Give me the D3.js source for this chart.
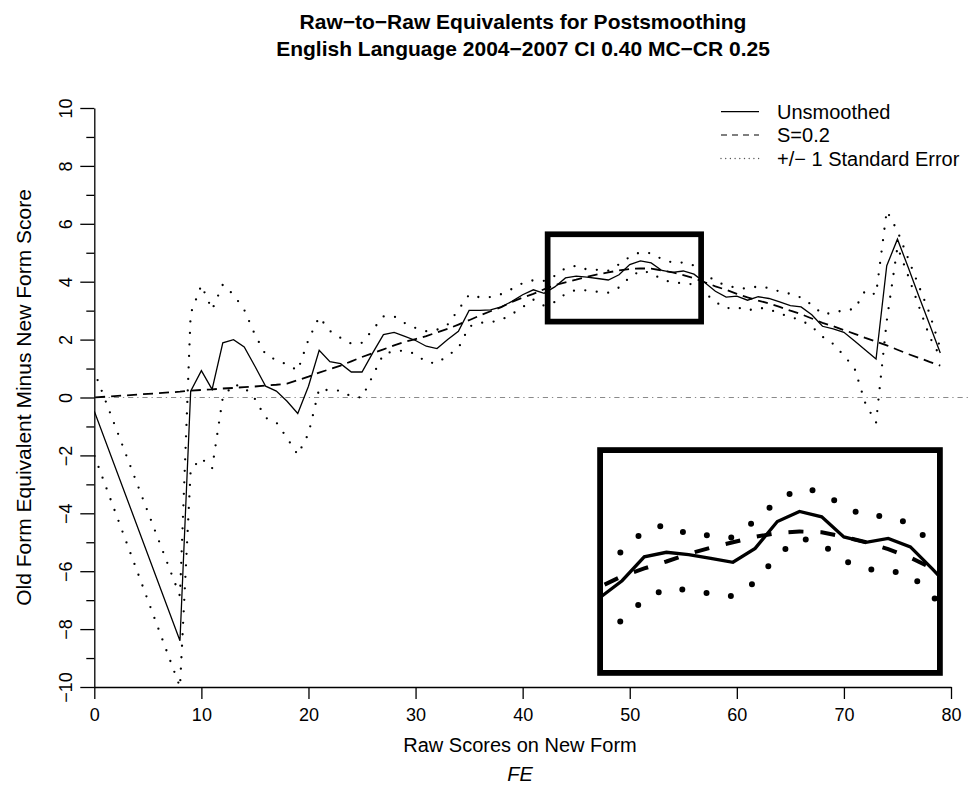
<!DOCTYPE html>
<html><head><meta charset="utf-8">
<script src="https://cdn.jsdelivr.net/npm/d3@7"></script>
<style>body{margin:0;background:#fff}svg{display:block}text{font-family:"Liberation Sans",Arial,Helvetica,sans-serif;fill:#000}</style>
</head><body>
<svg id="chart" width="971" height="785"></svg>
<script>
// ---------------- data ----------------
const scores = [0, 8, 9, 10, 11, 12, 13, 14, 15, 16, 17, 18, 19, 20, 21, 22, 23, 24, 25, 26, 27, 28, 29,
  30, 31, 32, 33, 34, 35, 36, 37, 38, 39, 40, 41, 42, 43, 44, 45, 46, 47, 48, 49, 50, 51, 52, 53, 54,
  55, 56, 57, 58, 59, 60, 61, 62, 63, 64, 65, 66, 67, 68, 69, 70, 71, 72, 73, 74, 75, 76, 77, 78, 79];
const unsmoothed = [-0.47, -8.4, 0.22, 0.93, 0.28, 1.89, 2.0, 1.75, 1.08, 0.39, 0.22, -0.13, -0.55, 0.39,
  1.63, 1.24, 1.17, 0.88, 0.88, 1.54, 2.17, 2.25, 2.11, 1.97, 1.77, 1.69, 2.0, 2.29, 3.01, 3.01, 3.03,
  3.13, 3.32, 3.55, 3.72, 3.6, 3.82, 4.13, 4.19, 4.16, 4.11, 4.06, 4.24, 4.59, 4.72, 4.65, 4.39, 4.32,
  4.37, 4.26, 3.97, 3.67, 3.47, 3.5, 3.36, 3.48, 3.42, 3.3, 3.17, 3.13, 2.86, 2.46, 2.37, 2.25, 1.95,
  1.64, 1.33, 4.55, 5.47, 4.5, 3.5, 2.52, 1.54];
const smoothed = [0.0, 0.2, 0.24, 0.26, 0.28, 0.31, 0.33, 0.36, 0.38, 0.41, 0.44, 0.48, 0.6, 0.72, 0.86,
  0.98, 1.1, 1.25, 1.4, 1.53, 1.66, 1.8, 1.92, 2.02, 2.12, 2.25, 2.37, 2.52, 2.67, 2.83, 2.98, 3.12, 3.3,
  3.45, 3.58, 3.74, 3.88, 3.98, 4.07, 4.17, 4.25, 4.32, 4.39, 4.44, 4.46, 4.45, 4.39, 4.32, 4.23, 4.12,
  3.98, 3.84, 3.72, 3.58, 3.46, 3.35, 3.25, 3.13, 3.0, 2.88, 2.73, 2.58, 2.46, 2.33, 2.2, 2.06, 1.93,
  1.8, 1.65, 1.5, 1.37, 1.23, 1.1];
const upperSE = [0.9, -6.86, 2.9, 3.88, 3.03, 3.9, 3.55, 3.03, 2.17, 1.48, 1.29, 1.14, 0.93, 2.0, 2.78,
  2.3, 2.06, 1.86, 1.89, 2.34, 2.8, 2.8, 2.57, 2.4, 2.29, 2.34, 2.52, 3.03, 3.55, 3.46, 3.47, 3.57, 3.75,
  3.95, 4.05, 4.03, 4.2, 4.47, 4.55, 4.42, 4.41, 4.38, 4.6, 4.86, 5.02, 4.98, 4.78, 4.66, 4.66, 4.56,
  4.3, 4.0, 3.88, 3.78, 3.76, 3.84, 3.78, 3.66, 3.58, 3.45, 3.2, 2.88, 2.92, 3.02, 3.05, 3.7, 3.55,
  6.45, 5.75, 4.8, 3.85, 2.9, 1.7];
const lowerSE = [-2.0, -10.0, -2.5, -2.1, -2.45, 0.0, 0.45, 0.35, -0.05, -0.7, -0.86, -1.4, -1.98, -1.25,
  0.3, 0.24, 0.24, 0.03, 0.0, 0.75, 1.5, 1.6, 1.62, 1.5, 1.22, 1.18, 1.45, 1.7, 2.45, 2.58, 2.6, 2.68,
  2.88, 3.12, 3.38, 3.17, 3.3, 3.58, 3.72, 3.7, 3.65, 3.62, 3.8, 4.15, 4.38, 4.3, 4.08, 3.97, 3.95, 3.9,
  3.62, 3.3, 3.08, 3.12, 3.0, 3.1, 3.05, 2.9, 2.78, 2.67, 2.45, 2.1, 1.85, 1.45, 1.0, -0.2, -0.87, 2.65,
  5.2, 4.2, 3.15, 2.1, 1.4];
const xTicks = [0, 10, 20, 30, 40, 50, 60, 70, 80];
const yTicks = [-10, -8, -6, -4, -2, 0, 2, 4, 6, 8, 10];
const yMinorTicks = [-9, -7, -5, -3, -1, 1, 3, 5, 7, 9];
const legendLabels = ["Unsmoothed", "S=0.2", "+/\u2212 1 Standard Error"];
const titleLines = ["Raw\u2212to\u2212Raw Equivalents for Postsmoothing",
  "English Language 2004\u22122007 CI 0.40 MC\u2212CR 0.25"];
const zoomWindowX = [42.6, 56.4];   // region magnified in the inset
const zoomWindowY = [2.72, 5.54];
const insetDomainX = [42.14, 57.2];
const insetDomainY = [2.66, 5.48];

// ---------------- layout ----------------
const svg = d3.select("#chart");
const defs = svg.append("defs");
const x = d3.scaleLinear().domain([0, 80]).range([94.3, 951]);
const y = d3.scaleLinear().domain([-10, 10]).range([687, 108]);

const rows = scores.map((s, i) => ({s, u: unsmoothed[i], m: smoothed[i], hi: upperSE[i], lo: lowerSE[i]}));

// dash phase so that a pattern element starts at the given arc position before vertex `at`
function phase(lineGen, at, back, period) {
  const tmp = svg.append("path").attr("d", lineGen(rows.filter(r => r.s <= at)));
  const L = tmp.node().getTotalLength();
  tmp.remove();
  const p = L - back;
  return ((period - (p % period)) % period);
}

defs.append("clipPath").attr("id", "plotclip")
  .append("rect").attr("x", x(0)).attr("y", y(10) - 2).attr("width", x(80) - x(0) + 4).attr("height", y(-10) - y(10) + 3);

// title
svg.append("g").selectAll("text").data(titleLines).join("text")
  .attr("x", 523).attr("y", (d, i) => 29 + i * 27)
  .attr("text-anchor", "middle").style("font-weight", "bold").style("font-size", "21px").text(d => d);

// reference line at 0
svg.append("line").attr("x1", x(0)).attr("x2", 971).attr("y1", y(0)).attr("y2", y(0))
  .attr("stroke", "#8a8a8a").attr("stroke-width", 1.2).attr("stroke-dasharray", "1.3,3.9,5.2,3.9");

// axes
const gx = svg.append("g").attr("transform", `translate(0,${y(-10)})`)
  .call(d3.axisBottom(x).tickValues(xTicks).tickSize(12).tickSizeOuter(0).tickPadding(9));
gx.selectAll("text").style("font-size", "18px").attr("dy", "0.71em");
const gy = svg.append("g").attr("transform", `translate(${x(0)},0)`)
  .call(d3.axisLeft(y).tickValues(yTicks).tickSize(14).tickSizeOuter(0));
gy.selectAll("text").attr("transform", "rotate(-90)").attr("x", 0).attr("y", -22).attr("dy", 0)
  .attr("text-anchor", "middle").style("font-size", "18px");
svg.append("g").attr("transform", `translate(${x(0)},0)`)
  .call(d3.axisLeft(y).tickValues(yMinorTicks).tickSize(8).tickSizeOuter(0).tickFormat(""))
  .select(".domain").remove();
svg.selectAll(".domain, .tick line").attr("stroke", "#000").attr("stroke-width", 1.3);

// axis titles
svg.append("text").attr("transform", `translate(31,${y(0)}) rotate(-90)`).attr("text-anchor", "middle")
  .style("font-size", "21px").text("Old Form Equivalent Minus New Form Score");
svg.append("text").attr("x", 520).attr("y", 752).attr("text-anchor", "middle")
  .style("font-size", "20px").text("Raw Scores on New Form");
svg.append("text").attr("x", 520).attr("y", 781).attr("text-anchor", "middle")
  .style("font-size", "20px").style("font-style", "italic").text("FE");

// series in the main plot
const mainLine = key => d3.line().x(d => x(d.s)).y(d => y(d[key]));
const plot = svg.append("g").attr("clip-path", "url(#plotclip)").attr("fill", "none");
["hi", "lo"].forEach(k => {
  plot.append("path").datum(rows).attr("d", mainLine(k)).attr("stroke", "#000").attr("stroke-width", 2.3)
    .attr("stroke-linecap", "round").attr("stroke-dasharray", "0,11.5")
    .attr("stroke-dashoffset", phase(mainLine(k), 43, 0.5, 11.5));
});
plot.append("path").datum(rows).attr("d", mainLine("m")).attr("stroke", "#000").attr("stroke-width", 1.8)
  .attr("stroke-dasharray", "10,6").attr("stroke-dashoffset", phase(mainLine("m"), 48, 5, 16));
plot.append("path").datum(rows).attr("d", mainLine("u")).attr("stroke", "#000").attr("stroke-width", 1.3);

// zoom window box in main plot
const bw = 5.7;
svg.append("rect").attr("x", x(zoomWindowX[0]) - bw / 2).attr("y", y(zoomWindowY[1]) - bw / 2)
  .attr("width", x(zoomWindowX[1]) - x(zoomWindowX[0]) + bw).attr("height", y(zoomWindowY[0]) - y(zoomWindowY[1]) + bw)
  .attr("fill", "none").attr("stroke", "#000").attr("stroke-width", bw);

// legend
const lg = svg.append("g");
const legY = [111.7, 135, 158.5];
const legStyles = [
  {w: 1.2, dash: null, cap: "butt"},
  {w: 1.2, dash: "6,5", cap: "butt"},
  {w: 1.4, dash: "0,4.7", cap: "round"}];
legendLabels.forEach((lab, i) => {
  lg.append("line").attr("x1", 721).attr("x2", 759).attr("y1", legY[i]).attr("y2", legY[i])
    .attr("stroke", i === 2 ? "#555" : "#000").attr("stroke-width", legStyles[i].w)
    .attr("stroke-dasharray", legStyles[i].dash).attr("stroke-linecap", legStyles[i].cap);
  lg.append("text").attr("x", 777).attr("y", legY[i]).attr("dy", "0.35em").style("font-size", "20px").text(lab);
});

// inset
const ix = d3.scaleLinear().domain(insetDomainX).range([603, 937]);
const iy = d3.scaleLinear().domain(insetDomainY).range([670, 453]);
defs.append("clipPath").attr("id", "insetclip")
  .append("rect").attr("x", 603).attr("y", 453).attr("width", 334).attr("height", 217);
const insetLine = key => d3.line().x(d => ix(d.s)).y(d => iy(d[key]));
const ig = svg.append("g").attr("clip-path", "url(#insetclip)").attr("fill", "none");
["hi", "lo"].forEach(k => {
  ig.append("path").datum(rows).attr("d", insetLine(k)).attr("stroke", "#000").attr("stroke-width", 6)
    .attr("stroke-linecap", "round").attr("stroke-dasharray", "0,24.5")
    .attr("stroke-dashoffset", phase(insetLine(k), 43, 2, 24.5));
});
ig.append("path").datum(rows).attr("d", insetLine("m")).attr("stroke", "#000").attr("stroke-width", 4)
  .attr("stroke-dasharray", "15,17").attr("stroke-dashoffset", phase(insetLine("m"), 48, 7.5, 32));
ig.append("path").datum(rows).attr("d", insetLine("u")).attr("stroke", "#000").attr("stroke-width", 3.3);
const iw = 5.8;
svg.append("rect").attr("x", 603 - iw / 2).attr("y", 453 - iw / 2).attr("width", 334 + iw).attr("height", 217 + iw)
  .attr("fill", "none").attr("stroke", "#000").attr("stroke-width", iw);
</script>
</body></html>
